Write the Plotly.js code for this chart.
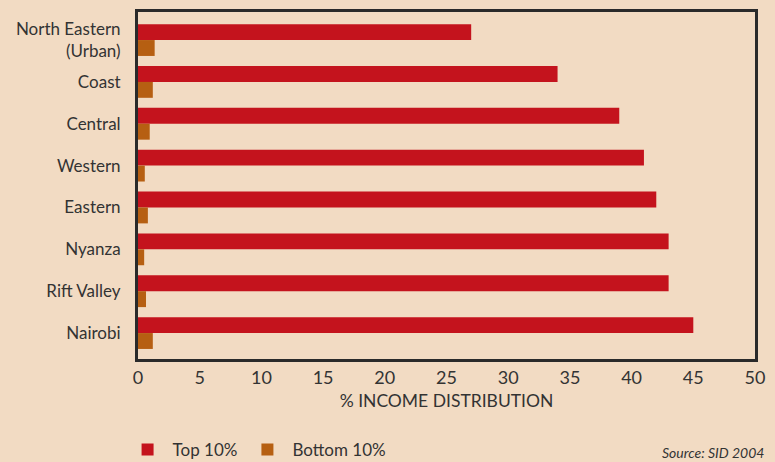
<!DOCTYPE html>
<html>
<head>
<meta charset="utf-8">
<script src="https://cdn.plot.ly/plotly-3.0.1.min.js"></script>
<style>html,body{margin:0;padding:0;background:#F2DBC3;}</style>
</head>
<body>
<div id="chart" style="width:775px;height:462px;"></div>
<script>
const regions = ["North Eastern<br>(Urban)", "Coast", "Central", "Western", "Eastern", "Nyanza", "Rift Valley", "Nairobi"];
const top10 = [27, 34, 39, 41, 42, 43, 43, 45];
const bottom10 = [1.35, 1.2, 0.95, 0.55, 0.8, 0.5, 0.65, 1.2];
const seriesNames = ["Top 10%", "Bottom 10%"];
const xTicks = [0, 5, 10, 15, 20, 25, 30, 35, 40, 45, 50];

const font = "Lato, 'Open Sans', sans-serif";
const traces = [
  {type: "bar", orientation: "h", y: regions, x: top10, name: seriesNames[0],
   marker: {color: "#C4131D"}},
  {type: "bar", orientation: "h", y: regions, x: bottom10, name: seriesNames[1],
   marker: {color: "#B65F12"}}
];
const layout = {
  width: 775, height: 462,
  paper_bgcolor: "#F2DBC3", plot_bgcolor: "#F2DBC3",
  margin: {l: 138, r: 20, t: 12, b: 103, autoexpand: false},
  barmode: "group", bargap: 0.24, bargroupgap: 0,
  font: {family: font, color: "#333333", size: 17},
  xaxis: {
    range: [0, 50], tickvals: xTicks, ticktext: xTicks.map(String),
    showgrid: false, zeroline: false, showline: true, mirror: true,
    linecolor: "#2a2a2a", linewidth: 3, ticks: "", tickfont: {size: 18},
    automargin: false,
    title: {text: "% INCOME DISTRIBUTION", font: {size: 17.5}, standoff: 9}
  },
  yaxis: {
    type: "category", categoryorder: "array", categoryarray: regions,
    range: [7.62, -0.67], showgrid: false, zeroline: false, showline: true, mirror: true,
    linecolor: "#2a2a2a", linewidth: 3, ticks: "", ticklabelstandoff: 11,
    automargin: false, tickfont: {size: 17}
  },
  showlegend: true,
  legend: {orientation: "h", x: -0.025, xanchor: "left",
    y: -0.262, yanchor: "middle",
    font: {size: 17}, bgcolor: "rgba(0,0,0,0)", itemwidth: 40, traceorder: "normal"},
  annotations: [{
    xref: "paper", yref: "paper", x: 1.018, y: -0.24, xanchor: "right", yanchor: "top",
    text: "<i>Source: SID 2004</i>", showarrow: false, font: {size: 14, color: "#333333"}
  }]
};
Plotly.newPlot("chart", traces, layout, {displayModeBar: false, staticPlot: true});
</script>
</body>
</html>
